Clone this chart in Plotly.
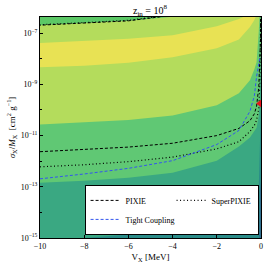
import numpy as np
import plotly.graph_objects as go

# ---- data (log10 of sigma_X/M_X [cm^2 g^-1]) ----
V_grid = [-10, -8, -6, -4, -2, -1, -0.5, -0.3, -0.2, -0.1, -0.05, 0]

# contour band lower edges (top to bottom)
edge_top_strip = [-6.69, -6.61, -6.52, -6.36, -6.20, -6.0, -6.0, -6.0, -6.0, -6.0, -6.0, -6.0]
edge_yellow_top = [-7.39, -7.31, -7.22, -7.08, -6.73, -6.45, -6.25, -6.1, -6.0, -6.0, -6.0, -6.0]
edge_yellow_bot = [-8.33, -8.27, -8.16, -7.94, -7.59, -7.25, -6.76, -6.49, -6.29, -6.0, -6.0, -6.0]
edge_green_mid = [-10.57, -10.49, -10.39, -10.22, -9.82, -9.35, -8.84, -8.41, -8.14, -6.9, -6.0, -6.0]
edge_teal = [-12.84, -12.76, -12.65, -12.45, -11.98, -11.43, -11.08, -10.84, -10.69, -10.22, -9.5, -7.5]
edge_dark_teal = [-15.3, -15.0, -14.86, -14.72, -14.6, -14.5, -14.4, -14.3, -14.1, -13.0, -10.6, -9.8]
edge_blue = [-16, -16, -16, -16, -16, -16, -16, -16, -16, -16, -13.2, -12.8]

band_edges = [edge_top_strip, edge_yellow_top, edge_yellow_bot, edge_green_mid,
              edge_teal, edge_dark_teal, edge_blue]
band_colors = ['#b4dc5c', '#e8e254', '#b4dc5c', '#60c874', '#3aa882', '#2a8c89', '#2f6e8e']
background_color = '#5cc866'

# constraint curves
pixie_V = [-10, -8, -6, -4, -2, -1, -0.5, -0.3, -0.2, -0.1, -0.05, -0.02, -0.02, -4, -6, -8, -10]
pixie_log = [-11.63, -11.55, -11.45, -11.30, -11.0, -10.72, -10.42, -10.15, -9.85, -9.1, -8.2,
             -7.2, -6.0, -6.3, -6.52, -6.61, -6.69]
superpixie_V = [-10, -8, -6, -4, -2, -1, -0.5, -0.3, -0.2, -0.1, -0.05, -0.01, -0.01, -4, -6, -8, -10]
superpixie_log = [-12.22, -12.14, -12.02, -11.84, -11.52, -11.24, -10.84, -10.6, -10.4, -9.95,
                  -8.9, -7.5, -6.0, -6.28, -6.5, -6.59, -6.67]
tight_V = [-10, -8, -6, -4, -2, -1, -0.5, -0.3, -0.2, -0.1, -0.05]
tight_log = [-12.69, -12.5, -12.28, -11.98, -11.35, -10.8, -10.05, -9.45, -8.7, -8.15, -7.95]

marker_V = [-0.04]
marker_log = [-9.75]

x_ticks = [-10, -8, -6, -4, -2, 0]
x_ticktext = ['−10', '−8', '−6', '−4', '−2', '0']
y_label_decades = [-15, -13, -11, -9, -7]
y_minor_decades = [-14, -12, -10, -8]

FONT = 'Liberation Serif'

fig = go.Figure()

for edge, color in zip(band_edges, band_colors):
    xs = V_grid + [V_grid[-1], V_grid[0]]
    ys = list(10.0 ** np.array(edge)) + [1e-17, 1e-17]
    fig.add_trace(go.Scatter(x=xs, y=ys, mode='lines', fill='toself', fillcolor=color,
                             line=dict(width=0), hoverinfo='skip', showlegend=False))

fig.add_trace(go.Scatter(x=pixie_V, y=10.0 ** np.array(pixie_log), mode='lines', name='PIXIE',
                         line=dict(color='black', width=1, dash='3px,2px')))
fig.add_trace(go.Scatter(x=superpixie_V, y=10.0 ** np.array(superpixie_log), mode='lines',
                         name='SuperPIXIE', line=dict(color='black', width=1.2, dash='1px,2.5px')))
fig.add_trace(go.Scatter(x=tight_V, y=10.0 ** np.array(tight_log), mode='lines',
                         name='Tight Coupling', line=dict(color='#3355ee', width=1, dash='3px,2px')))
fig.add_trace(go.Scatter(x=marker_V, y=10.0 ** np.array(marker_log), mode='markers',
                         marker=dict(symbol='triangle-left', size=8, color='#e8141c'),
                         showlegend=False, cliponaxis=True))

fig.update_layout(
    width=264, height=267,
    margin=dict(l=40, r=3, t=17, b=29, autoexpand=False),
    paper_bgcolor='white', plot_bgcolor=background_color,
    font=dict(family=FONT, color='black', size=8),
    title=dict(text='z<sub>in</sub> = 10<sup>8</sup>', x=0.568, xanchor='center',
               y=1 - 10 / 267, yanchor='middle', font=dict(size=10, family=FONT)),
    showlegend=True,
    legend=dict(orientation='h', x=0.989, xanchor='right', y=0.014, yanchor='bottom',
                bgcolor='white', bordercolor='black', borderwidth=1,
                font=dict(size=8, family=FONT), entrywidth=41, entrywidthmode='pixels',
                tracegroupgap=0, itemwidth=30),
)

fig.update_xaxes(range=[-10, 0], tickvals=x_ticks, ticktext=x_ticktext, ticks='inside',
                 ticklen=3, tickcolor='black', showline=True, mirror=True, linecolor='black',
                 linewidth=1, showgrid=False, zeroline=False,
                 title=dict(text='V<sub>X</sub> [MeV]', font=dict(size=9, family=FONT), standoff=4),
                 tickfont=dict(size=8, family=FONT))
fig.update_yaxes(type='log', range=[-15, -6.37],
                 tickvals=[10.0 ** d for d in y_label_decades],
                 ticktext=['10<sup>−%d</sup>' % (-d) for d in y_label_decades],
                 ticks='inside', ticklen=3, tickcolor='black', showline=True, mirror=True,
                 linecolor='black', linewidth=1, showgrid=False, zeroline=False,
                 minor=dict(tickvals=[10.0 ** d for d in y_minor_decades], ticks='inside',
                            ticklen=2, tickcolor='black', showgrid=False),
                 title=dict(text='<i>σ</i><sub>X</sub>/<i>M</i><sub>X</sub>  [cm<sup>2</sup> g<sup>−1</sup>]',
                            font=dict(size=9, family=FONT), standoff=3),
                 tickfont=dict(size=8, family=FONT))

fig.write_html('out.html', config={'displayModeBar': False},
               post_script="document.body.style.margin='0';document.body.style.overflow='hidden';")
